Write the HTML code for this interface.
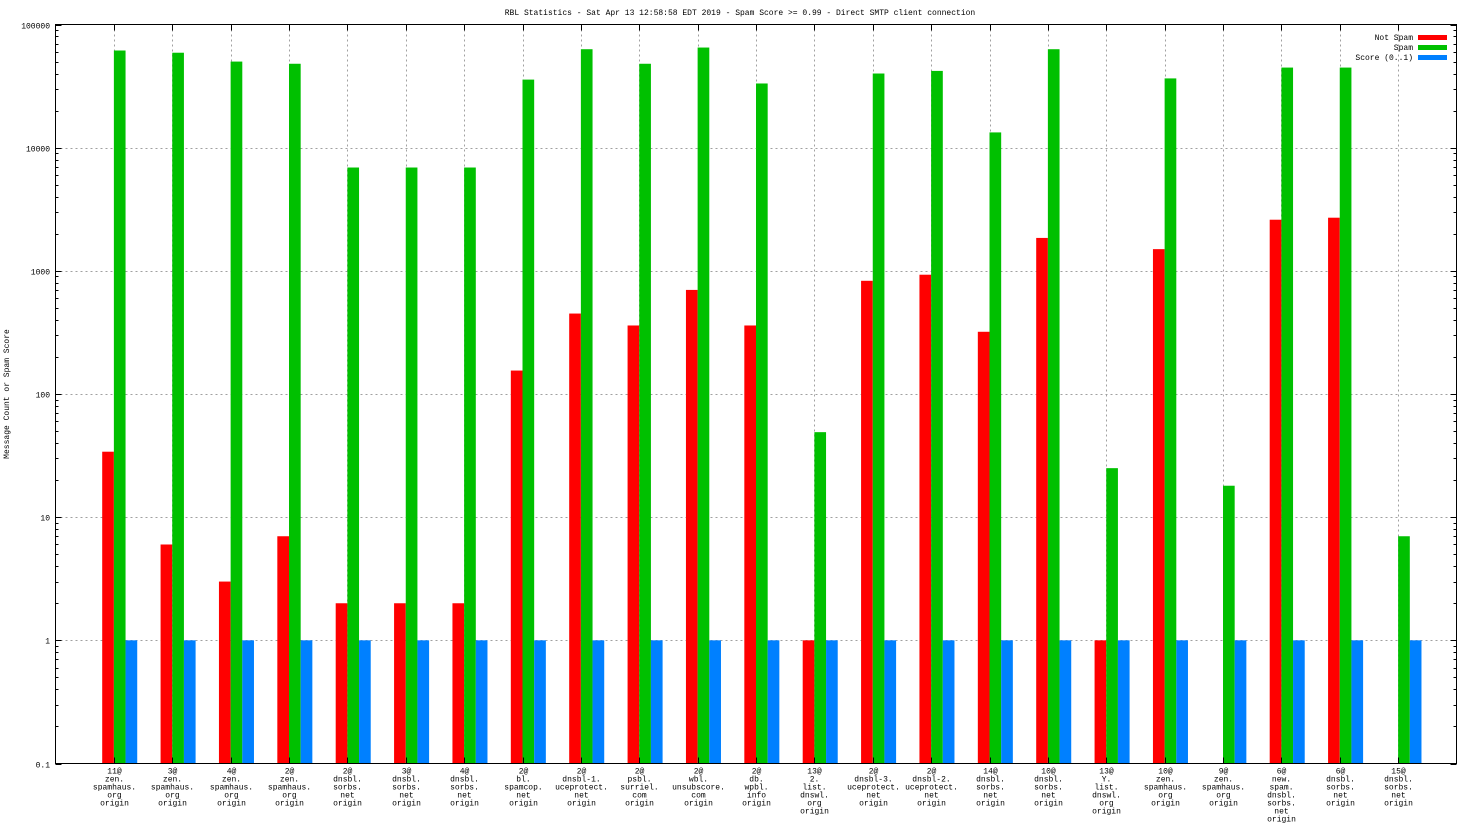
<!DOCTYPE html>
<html><head><meta charset="utf-8">
<style>
html,body{margin:0;padding:0;background:#fff;}
svg{display:block;}
text{font-family:"Liberation Mono","DejaVu Sans Mono",monospace;font-size:8px;fill:#000;}
</style></head>
<body>
<svg id="chart" width="1472" height="828" xmlns="http://www.w3.org/2000/svg">
<text x="740" y="15" text-anchor="middle">RBL Statistics - Sat Apr 13 12:58:58 EDT 2019 - Spam Score &gt;= 0.99 - Direct SMTP client connection</text>
<text x="9" y="394" text-anchor="middle" transform="rotate(-90 9 394)">Message Count or Spam Score</text>
<g id="grid"></g>
<g id="bars"></g>
<g id="axes"></g>
<g id="legend">
  <text x="1413" y="40" text-anchor="end">Not Spam</text>
  <rect x="1418" y="35" width="29" height="5" fill="#ff0000"/>
  <text x="1413" y="50" text-anchor="end">Spam</text>
  <rect x="1418" y="45" width="29" height="5" fill="#00c000"/>
  <text x="1413" y="60" text-anchor="end">Score (0..1)</text>
  <rect x="1418" y="55" width="29" height="5" fill="#0080ff"/>
</g>
</svg>
<script>
const categories = [
 ["11@","zen.","spamhaus.","org","origin"],
 ["3@","zen.","spamhaus.","org","origin"],
 ["4@","zen.","spamhaus.","org","origin"],
 ["2@","zen.","spamhaus.","org","origin"],
 ["2@","dnsbl.","sorbs.","net","origin"],
 ["3@","dnsbl.","sorbs.","net","origin"],
 ["4@","dnsbl.","sorbs.","net","origin"],
 ["2@","bl.","spamcop.","net","origin"],
 ["2@","dnsbl-1.","uceprotect.","net","origin"],
 ["2@","psbl.","surriel.","com","origin"],
 ["2@","wbl.","unsubscore.","com","origin"],
 ["2@","db.","wpbl.","info","origin"],
 ["13@","2.","list.","dnswl.","org","origin"],
 ["2@","dnsbl-3.","uceprotect.","net","origin"],
 ["2@","dnsbl-2.","uceprotect.","net","origin"],
 ["14@","dnsbl.","sorbs.","net","origin"],
 ["10@","dnsbl.","sorbs.","net","origin"],
 ["13@","Y.","list.","dnswl.","org","origin"],
 ["10@","zen.","spamhaus.","org","origin"],
 ["9@","zen.","spamhaus.","org","origin"],
 ["6@","new.","spam.","dnsbl.","sorbs.","net","origin"],
 ["6@","dnsbl.","sorbs.","net","origin"],
 ["15@","dnsbl.","sorbs.","net","origin"]
];
const notSpam = [34,6,3,7,2,2,2,155,450,360,700,360,1,830,930,320,1850,1,1500,0,2600,2700,0];
const spam = [61500,59000,50000,48000,6900,6900,6900,35700,63000,48000,65000,33200,49,40000,42000,13300,63000,25,36500,18,44700,44700,7];
const score = [1,1,1,1,1,1,1,1,1,1,1,1,1,1,1,1,1,1,1,1,1,1,1];
const yTicks = ["0.1","1","10","100","1000","10000","100000"];

const L=55.5, R=1456.5, T=24.5, B=763.5;
const NS="http://www.w3.org/2000/svg";
const xMin=-1, xMax=23, yMinLog=-1, yMaxLog=5;
function xs(v){return L+(v-xMin)/(xMax-xMin)*(R-L);}
function ys(v){return B-(Math.log10(v)-yMinLog)/(yMaxLog-yMinLog)*(B-T);}
function mk(tag,attrs,parent){const e=document.createElementNS(NS,tag);for(const k in attrs)e.setAttribute(k,attrs[k]);parent.appendChild(e);return e;}
const grid=document.getElementById('grid'), bars=document.getElementById('bars'), axes=document.getElementById('axes');

// y grid + ticks
yTicks.forEach((t,i)=>{
  const v=parseFloat(t), y=Math.round(ys(v))+0.5;
  if(i>0&&i<yTicks.length-1){
    const g=mk('line',{x1:L,x2:R,y1:y,y2:y,stroke:'#a0a0a0','stroke-dasharray':'2,3','stroke-width':1},grid);
    
    
  }
  const tk=mk('line',{x1:L,x2:L+6,y1:y,y2:y,stroke:'#000'},axes);
  
  
  const tk2=mk('line',{x1:R-6,x2:R,y1:y,y2:y,stroke:'#000'},axes);
  
  
  const lb=mk('text',{x:50,y:y+3,'text-anchor':'end'},axes);
  lb.textContent=t;
  
  
  if(i<yTicks.length-1){
    [2,3,4,5,6,7,8,9].forEach(m=>{
      const my=Math.round(ys(v*m))+0.5;
      const mt=mk('line',{x1:L,x2:L+3,y1:my,y2:my,stroke:'#000'},axes);
      
      
      const mt2=mk('line',{x1:R-3,x2:R,y1:my,y2:my,stroke:'#000'},axes);
      
      
    });
  }
});

// bars + x grid + labels
const series=[[notSpam,'#ff0000',-0.2,'bar-not-spam'],[spam,'#00c000',0,'bar-spam'],[score,'#0080ff',0.2,'bar-score']];
categories.forEach((c,i)=>{
  const x=Math.round(xs(i))+0.5;
  const g=mk('line',{x1:x,x2:x,y1:T,y2:B,stroke:'#a0a0a0','stroke-dasharray':'2,3'},grid);
  
  
  const t1=mk('line',{x1:x,x2:x,y1:B-6,y2:B,stroke:'#000'},axes);
  
  
  const t2=mk('line',{x1:x,x2:x,y1:T,y2:T+6,stroke:'#000'},axes);
  
  
  const lb=mk('text',{x:x,y:B+10,'text-anchor':'middle'},axes);
  
  
  c.forEach((s,j)=>{const ts=mk('tspan',{x:x,dy:j?8:0},lb);ts.textContent=s;});
  series.forEach(([arr,col,off,nm])=>{
    const v=arr[i]; if(!(v>0.1))return;
    const x0=xs(i+off), x1=xs(i+off+0.2), y=ys(v);
    const r=mk('rect',{x:x0,y:y,width:x1-x0,height:B-y,fill:col},bars);
    
    
  });
});
const frame=mk('rect',{x:L,y:T,width:R-L,height:B-T,fill:'none',stroke:'#000'},axes);


</script>
</body></html>
